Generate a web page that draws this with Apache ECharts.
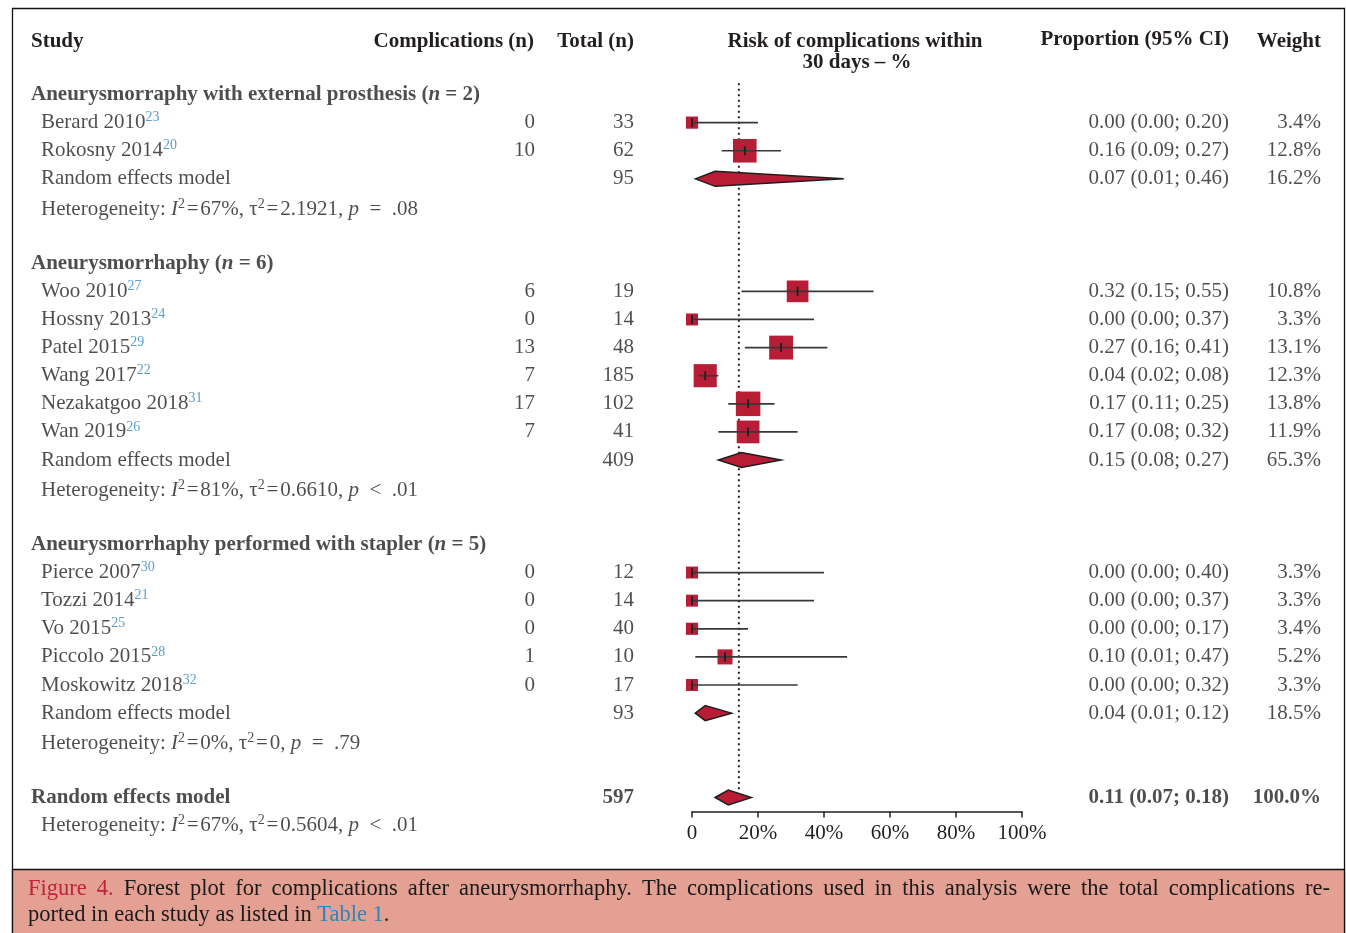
<!DOCTYPE html>
<html>
<head>
<meta charset="utf-8">
<title>Forest plot – complications after aneurysmorrhaphy</title>
<script src="https://cdn.jsdelivr.net/npm/echarts@6/dist/echarts.min.js"></script>
<style>
  html, body { margin: 0; padding: 0; background: #fff; }
  #chart { width: 1346px; height: 933px; }
</style>
</head>
<body>
<div id="chart"></div>
<script>
// ---- Study-level data -------------------------------------------------
const studyNames = ['Berard 2010', 'Rokosny 2014', 'Woo 2010', 'Hossny 2013', 'Patel 2015', 'Wang 2017',
  'Nezakatgoo 2018', 'Wan 2019', 'Pierce 2007', 'Tozzi 2014', 'Vo 2015', 'Piccolo 2015', 'Moskowitz 2018'];
const studyRefs = [23, 20, 27, 24, 29, 22, 31, 26, 30, 21, 25, 28, 32];
const studyGroup = [0, 0, 1, 1, 1, 1, 1, 1, 2, 2, 2, 2, 2];
const studyEvents = [0, 10, 6, 0, 13, 7, 17, 7, 0, 0, 0, 1, 0];
const studyTotals = [33, 62, 19, 14, 48, 185, 102, 41, 12, 14, 40, 10, 17];
const studyProp = [0.00, 0.16, 0.32, 0.00, 0.27, 0.04, 0.17, 0.17, 0.00, 0.00, 0.00, 0.10, 0.00];
const studyLower = [0.00, 0.09, 0.15, 0.00, 0.16, 0.02, 0.11, 0.08, 0.00, 0.00, 0.00, 0.01, 0.00];
const studyUpper = [0.20, 0.27, 0.55, 0.37, 0.41, 0.08, 0.25, 0.32, 0.40, 0.37, 0.17, 0.47, 0.32];
const studyWeight = [3.4, 12.8, 10.8, 3.3, 13.1, 12.3, 13.8, 11.9, 3.3, 3.3, 3.4, 5.2, 3.3];

// ---- Subgroup pooled estimates ----------------------------------------
const groupNames = ['Aneurysmorraphy with external prosthesis', 'Aneurysmorrhaphy', 'Aneurysmorrhaphy performed with stapler'];
const groupN = [2, 6, 5];
const groupTotals = [95, 409, 93];
const groupProp = [0.07, 0.15, 0.04];
const groupLower = [0.01, 0.08, 0.01];
const groupUpper = [0.46, 0.27, 0.12];
const groupWeight = [16.2, 65.3, 18.5];
const groupI2 = ['67%', '81%', '0%'];
const groupTau2 = ['2.1921', '0.6610', '0'];
const groupP = ['= .08', '< .01', '= .79'];

// ---- Overall pooled estimate ------------------------------------------
const overallTotal = 597;
const overallProp = 0.11;
const overallLower = 0.07;
const overallUpper = 0.18;
const overallWeight = 100.0;
const overallI2 = '67%';
const overallTau2 = '0.5604';
const overallP = '< .01';
const referenceLine = 0.142;

// ---- Axis ticks -------------------------------------------------------
const axisTicks = [0, 0.2, 0.4, 0.6, 0.8, 1.0];
const axisTickLabels = ['0', '20%', '40%', '60%', '80%', '100%'];

// ---- Caption ----------------------------------------------------------
const captionLine1 = 'Figure 4. Forest plot for complications after aneurysmorrhaphy. The complications used in this analysis were the total complications re-';
const captionLine2 = ['ported in each study as listed in ', 'Table 1', '.'];

// ---- Layout / style ---------------------------------------------------
const FONT = 'Liberation Serif';
const INK = '#231f20';
const RED = '#b81d35';
const BLUE = '#2f86c3';
const FS = 21;
const ROW_H = 28.12;       // pixel height of one table row
const FIRST_ROW_Y = 94.5;  // centre of the first group header row
const PLOT_LEFT = 692;
const PLOT_WIDTH = 330;
const PLOT_ROWS = 26;      // rows above the x axis
const ALL_ROWS = 27;

const fmt2 = v => v.toFixed(2);
const ciText = (p, l, u) => `${fmt2(p)} (${fmt2(l)}; ${fmt2(u)})`;
const wText = w => w.toFixed(1) + '%';

// ---- Build the table rows ---------------------------------------------
const rowsStudy = [], rowsGroupHead = [], rowsGroupRE = [], rowsGroupHet = [];
let r = 0;
for (let g = 0; g < groupNames.length; g++) {
  rowsGroupHead.push(r++);
  studyGroup.forEach((sg, i) => { if (sg === g) rowsStudy[i] = r++; });
  rowsGroupRE.push(r++);
  rowsGroupHet.push(r++);
  r++; // blank spacer
}
const rowOverallRE = r++;
const rowOverallHet = r++;

const LH = 24;
const rich = {
  t: { fontFamily: FONT, fontSize: FS, color: INK, lineHeight: LH },
  i: { fontFamily: FONT, fontSize: FS, color: INK, fontStyle: 'italic', lineHeight: LH },
  b: { fontFamily: FONT, fontSize: FS, color: INK, fontWeight: 'bold', lineHeight: LH },
  bi: { fontFamily: FONT, fontSize: FS, color: INK, fontWeight: 'bold', fontStyle: 'italic', lineHeight: LH },
  sup: { fontFamily: FONT, fontSize: 14, color: BLUE, verticalAlign: 'top', lineHeight: 13 },
  s2: { fontFamily: FONT, fontSize: 14, color: INK, verticalAlign: 'top', lineHeight: 13 }
};

// thin spacing around "=" in the statistics, wider spacing after p
const HAIR = '\u200A', EN = '\u2002';
const hetText = (i2, tau2, p) => {
  const [op, val] = p.split(' ');
  return `{t|Heterogeneity: }{i|I}{s2|2}{t|${HAIR}=${HAIR}${i2}, τ}{s2|2}{t|${HAIR}=${HAIR}${tau2}, }{i|p}{t|${EN}${op}${EN}${val}}`;
};

// text cells: [xAnchor, row, richString]
const colStudyLeft = [], colEvents = [], colTotal = [], colCI = [], colWeight = [];
groupNames.forEach((name, g) => {
  colStudyLeft.push({ value: [31, rowsGroupHead[g]], txt: `{b|${name} (}{bi|n}{b| = ${groupN[g]})}` });
  colStudyLeft.push({ value: [41, rowsGroupRE[g]], txt: '{t|Random effects model}' });
  colStudyLeft.push({ value: [41, rowsGroupHet[g] + 0.08], txt: hetText(groupI2[g], groupTau2[g], groupP[g]) });
  colTotal.push({ value: [634, rowsGroupRE[g]], txt: `{t|${groupTotals[g]}}` });
  colCI.push({ value: [1229, rowsGroupRE[g]], txt: `{t|${ciText(groupProp[g], groupLower[g], groupUpper[g])}}` });
  colWeight.push({ value: [1321, rowsGroupRE[g]], txt: `{t|${wText(groupWeight[g])}}` });
});
studyNames.forEach((name, i) => {
  const row = rowsStudy[i];
  colStudyLeft.push({ value: [41, row], txt: `{t|${name}}{sup|${studyRefs[i]}}` });
  colEvents.push({ value: [535, row], txt: `{t|${studyEvents[i]}}` });
  colTotal.push({ value: [634, row], txt: `{t|${studyTotals[i]}}` });
  colCI.push({ value: [1229, row], txt: `{t|${ciText(studyProp[i], studyLower[i], studyUpper[i])}}` });
  colWeight.push({ value: [1321, row], txt: `{t|${wText(studyWeight[i])}}` });
});
colStudyLeft.push({ value: [31, rowOverallRE], txt: '{b|Random effects model}' });
colStudyLeft.push({ value: [41, rowOverallHet], txt: hetText(overallI2, overallTau2, overallP) });
colTotal.push({ value: [634, rowOverallRE], txt: `{b|${overallTotal}}` });
colCI.push({ value: [1229, rowOverallRE], txt: `{b|${ciText(overallProp, overallLower, overallUpper)}}` });
colWeight.push({ value: [1321, rowOverallRE], txt: `{b|${wText(overallWeight)}}` });

function textSeries(data, side) {
  return {
    type: 'scatter', xAxisIndex: 1, yAxisIndex: 1, symbolSize: 0, silent: true, clip: false,
    data,
    label: {
      show: true, position: side, distance: 0, rich,
      formatter: p => p.data.txt
    }
  };
}

// ---- Marks for the forest panel ---------------------------------------
const studyMarks = studyNames.map((_, i) => [studyProp[i], rowsStudy[i], studyLower[i], studyUpper[i], studyWeight[i]]);
const diamondMarks = groupNames.map((_, g) => [groupProp[g], rowsGroupRE[g], groupLower[g], groupUpper[g]]);
diamondMarks.push([overallProp, rowOverallRE, overallLower, overallUpper]);

function renderStudy(params, api) {
  const est = api.coord([api.value(0), api.value(1)]);
  const lo = api.coord([api.value(2), api.value(1)]);
  const hi = api.coord([api.value(3), api.value(1)]);
  const side = 6.6 * Math.sqrt(api.value(4));
  return {
    type: 'group',
    children: [
      { type: 'rect', shape: { x: est[0] - side / 2, y: est[1] - side / 2, width: side, height: side },
        style: { fill: RED } },
      { type: 'line', shape: { x1: lo[0], y1: lo[1], x2: hi[0], y2: hi[1] },
        style: { stroke: '#383838', lineWidth: 1.7 } },
      { type: 'line', shape: { x1: est[0], y1: est[1] - 4.5, x2: est[0], y2: est[1] + 4.5 },
        style: { stroke: '#1e1e1e', lineWidth: 1.8 } }
    ]
  };
}

function renderDiamond(params, api) {
  const row = api.value(1);
  const est = api.coord([api.value(0), row]);
  const lo = api.coord([api.value(2), row]);
  const hi = api.coord([api.value(3), row]);
  const h = 7.5;
  return {
    type: 'polygon',
    shape: { points: [[lo[0], lo[1]], [est[0], est[1] - h], [hi[0], hi[1]], [est[0], est[1] + h]] },
    style: { fill: RED, stroke: '#1e1e1e', lineWidth: 1.5 }
  };
}

// ---- Justified first caption line --------------------------------------
const CAP_FS = 22.5;
const CAP_LEFT = 28, CAP_RIGHT = 1330;
const measureCtx = document.createElement('canvas').getContext('2d');
measureCtx.font = `${CAP_FS}px "${FONT}"`;
const capWords = captionLine1.split(' ');
const capWidths = capWords.map(w => measureCtx.measureText(w).width);
const capGap = (CAP_RIGHT - CAP_LEFT - capWidths.reduce((a, b) => a + b, 0)) / (capWords.length - 1);
const captionGraphics = [];
let cx = CAP_LEFT;
capWords.forEach((w, k) => {
  captionGraphics.push({
    type: 'text', silent: true, z: 5,
    style: { x: cx, y: 889, text: w, font: `${CAP_FS}px "${FONT}"`, fill: k < 2 ? '#c0223b' : '#1a1a1a', textVerticalAlign: 'middle' }
  });
  cx += capWidths[k] + capGap;
});
captionGraphics.push({
  type: 'text', silent: true, z: 5,
  style: {
    x: CAP_LEFT, y: 915, textVerticalAlign: 'middle',
    text: `{c|${captionLine2[0]}}{l|${captionLine2[1]}}{c|${captionLine2[2]}}`,
    rich: { l: { fontFamily: FONT, fontSize: CAP_FS, fill: '#2b86bd' }, c: { fontFamily: FONT, fontSize: CAP_FS, fill: '#1a1a1a' } }
  }
});

const plotTop = FIRST_ROW_Y - 0.5 * ROW_H;
const headFont = `bold ${FS}px "${FONT}"`;
const header = (x, y, text, align) => ({
  type: 'text', silent: true,
  style: { x, y, text, font: headFont, fill: INK, textAlign: align, textVerticalAlign: 'middle' }
});

const chart = echarts.init(document.getElementById('chart'), null, { renderer: 'canvas' });
chart.setOption({
  animation: false,
  backgroundColor: '#ffffff',
  grid: [
    { left: PLOT_LEFT, width: PLOT_WIDTH, top: plotTop, height: PLOT_ROWS * ROW_H, containLabel: false },
    { left: 0, width: 1346, top: plotTop, height: ALL_ROWS * ROW_H, containLabel: false }
  ],
  xAxis: [
    {
      type: 'value', gridIndex: 0, min: 0, max: 1, interval: 0.2,
      axisLine: { show: true, onZero: false, lineStyle: { color: '#222', width: 1.5 } },
      axisTick: { show: true, length: 6, lineStyle: { color: '#222', width: 1.5 } },
      axisLabel: {
        margin: 11, fontFamily: FONT, fontSize: FS, color: INK,
        formatter: v => axisTickLabels[axisTicks.findIndex(t => Math.abs(t - v) < 1e-9)]
      },
      splitLine: { show: false }
    },
    { type: 'value', gridIndex: 1, min: 0, max: 1346, show: false }
  ],
  yAxis: [
    { type: 'value', gridIndex: 0, min: -0.5, max: PLOT_ROWS - 0.5, inverse: true, show: false },
    { type: 'value', gridIndex: 1, min: -0.5, max: ALL_ROWS - 0.5, inverse: true, show: false }
  ],
  series: [
    {
      type: 'line', xAxisIndex: 0, yAxisIndex: 0, silent: true, symbol: 'none',
      data: [[referenceLine, -0.4], [referenceLine, rowOverallRE - 0.25]],
      lineStyle: { color: '#222', width: 2, type: [2, 3.5] }, z: 1
    },
    {
      type: 'custom', xAxisIndex: 0, yAxisIndex: 0, silent: true, clip: false,
      renderItem: renderStudy, data: studyMarks, z: 3
    },
    {
      type: 'custom', xAxisIndex: 0, yAxisIndex: 0, silent: true, clip: false,
      renderItem: renderDiamond, data: diamondMarks, z: 3
    },
    textSeries(colStudyLeft, 'right'),
    textSeries(colEvents, 'left'),
    textSeries(colTotal, 'left'),
    textSeries(colCI, 'left'),
    textSeries(colWeight, 'left')
  ],
  graphic: [
    // frame and caption band
    { type: 'rect', silent: true, z: -10, shape: { x: 12.5, y: 8.5, width: 1332, height: 930 },
      style: { fill: '#fff', stroke: '#111', lineWidth: 1.3 } },
    { type: 'rect', silent: true, z: -9, shape: { x: 12.5, y: 869.5, width: 1332, height: 70 },
      style: { fill: '#e3a093', stroke: '#111', lineWidth: 1.3 } },
    // column headers
    header(31, 41.5, 'Study', 'left'),
    header(534, 41.5, 'Complications (n)', 'right'),
    header(634, 41.5, 'Total (n)', 'right'),
    header(855, 41.5, 'Risk of complications within', 'center'),
    header(857, 63, '30 days – %', 'center'),
    header(1229, 39.5, 'Proportion (95% CI)', 'right'),
    header(1321, 41.5, 'Weight', 'right'),
    ...captionGraphics
  ]
});
</script>
</body>
</html>
